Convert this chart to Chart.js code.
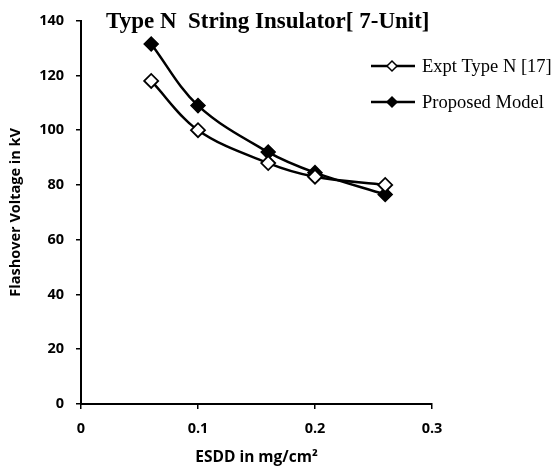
<!DOCTYPE html>
<html>
<head>
<meta charset="utf-8">
<script src="https://cdn.jsdelivr.net/npm/chart.js@4.4.1/dist/chart.umd.min.js"></script>
<style>
  html, body { margin: 0; padding: 0; background: #fff; }
  #c { display: block; }
</style>
</head>
<body>
<canvas id="c" width="555" height="469"></canvas>
<script>
// data
const esdd = [0.06, 0.1, 0.16, 0.2, 0.26];
const exptTypeN = [118, 100, 88, 83, 80];
const proposedModel = [131.5, 109, 92, 84.5, 76.5];
const seriesNames = ['Expt Type N [17]', 'Proposed Model'];
const chartTitle = 'Type N  String Insulator[ 7-Unit]';
const xTitle = 'ESDD in mg/cm\u00B2';
const yTitle = 'Flashover Voltage in kV';

const toPoints = (ys) => esdd.map((x, i) => ({ x, y: ys[i] }));
const tickFont = { family: 'Open Sans', weight: 'bold', size: 14.5 };

// title + legend drawn over the plot, like the Excel original
const overlay = {
    id: 'overlay',
    afterDraw(chart) {
        const ctx = chart.ctx;
        ctx.save();
        ctx.fillStyle = '#000';
        ctx.font = 'bold 23px "Liberation Serif"';
        ctx.textAlign = 'left';
        ctx.textBaseline = 'alphabetic';
        ctx.fillText(chartTitle, 106, 28);

        const rows = [66, 102];
        chart.data.datasets.forEach((ds, i) => {
            const y = rows[i];
            ctx.strokeStyle = '#000';
            ctx.lineWidth = 2.5;
            ctx.beginPath();
            ctx.moveTo(371, y);
            ctx.lineTo(415, y);
            ctx.stroke();
            ctx.fillStyle = ds.pointBackgroundColor;
            ctx.strokeStyle = '#000';
            ctx.lineWidth = 1.5;
            Chart.helpers.drawPoint(ctx, { pointStyle: 'rectRot', radius: 5, borderWidth: 1.5, rotation: 0 }, 392, y);
            ctx.fillStyle = '#000';
            ctx.font = '18.5px "Liberation Serif"';
            ctx.textBaseline = 'middle';
            ctx.fillText(ds.label, 422, y + 1);
        });
        ctx.restore();
    }
};

new Chart(document.getElementById('c').getContext('2d'), {
    type: 'line',
    data: {
        datasets: [
            {
                label: seriesNames[0],
                data: toPoints(exptTypeN),
                borderColor: '#000',
                borderWidth: 2.5,
                pointStyle: 'rectRot',
                pointRadius: 7,
                pointBorderWidth: 1.8,
                pointBorderColor: '#000',
                pointBackgroundColor: '#fff',
                tension: 0.35
            },
            {
                label: seriesNames[1],
                data: toPoints(proposedModel),
                borderColor: '#000',
                borderWidth: 2.5,
                pointStyle: 'rectRot',
                pointRadius: 7,
                pointBorderWidth: 1.5,
                pointBorderColor: '#000',
                pointBackgroundColor: '#000',
                tension: 0.35
            }
        ]
    },
    options: {
        animation: false,
        responsive: false,
        layout: { padding: { left: 0, top: 14, right: 123, bottom: 0 } },
        plugins: {
            legend: { display: false },
            tooltip: { enabled: false }
        },
        scales: {
            x: {
                type: 'linear',
                min: 0,
                max: 0.3,
                ticks: { stepSize: 0.1, color: '#000', padding: 11, font: tickFont },
                grid: { drawOnChartArea: false, tickLength: 5, color: '#000', lineWidth: 1.5 },
                border: { color: '#000', width: 2 },
                title: { display: true, text: xTitle, color: '#000', padding: { top: 2, bottom: 2 }, font: { family: 'Open Sans', weight: 'bold', size: 15.5 } },
                afterFit: (s) => { s.height = 65; }
            },
            y: {
                min: 0,
                max: 140,
                ticks: { stepSize: 20, color: '#000', padding: 12, font: tickFont },
                grid: { drawOnChartArea: false, tickLength: 5, color: '#000', lineWidth: 1.5 },
                border: { color: '#000', width: 2 },
                title: { display: true, text: yTitle, color: '#000', padding: { top: 7, bottom: 0 }, font: { family: 'Open Sans', weight: 'bold', size: 14.5 } },
                afterFit: (s) => { s.width = 81; }
            }
        }
    },
    plugins: [overlay]
});
</script>
</body>
</html>
